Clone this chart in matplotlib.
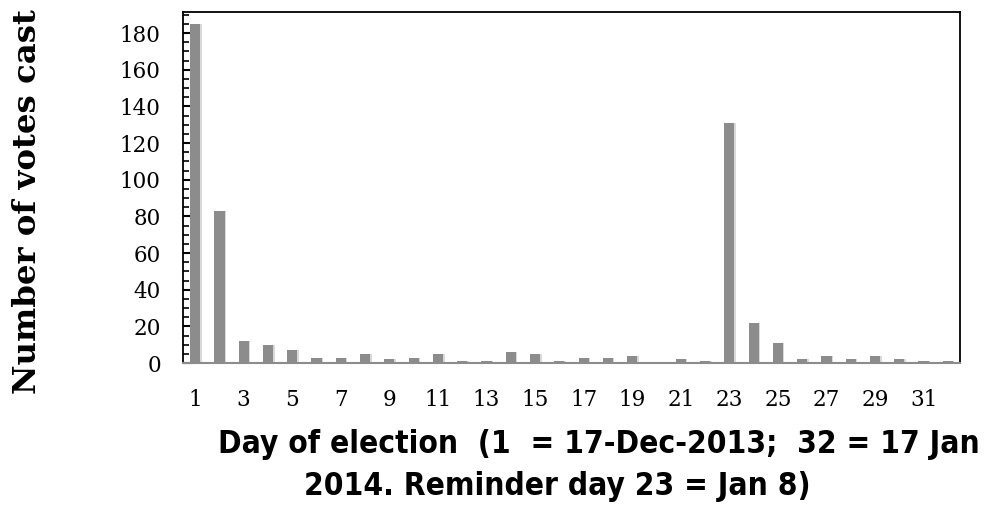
import matplotlib
matplotlib.use("Agg")
import matplotlib.pyplot as plt
import numpy as np

days = list(range(1, 33))
votes = [185, 83, 12, 10, 7, 3, 3, 5, 2, 3, 5, 1, 1, 6, 5, 1,
         3, 3, 4, 0, 2, 1, 131, 22, 11, 2, 4, 2, 4, 2, 1, 1]
xtick_labels = [str(d) for d in range(1, 33, 2)]
y_label = "Number of votes cast"
x_label_1 = "Day of election  (1  = 17-Dec-2013;  32 = 17 Jan"
x_label_2 = "2014. Reminder day 23 = Jan 8)"

fig = plt.figure(figsize=(9.86, 5.08), dpi=100)
ax = fig.add_axes([183/986, 1 - 363/508, (960-183)/986, (363-12)/508])

# soft shadow
ax.bar(np.array(days) + 0.06, votes, width=0.42, color="#d9d9d9", zorder=1)
ax.bar(days, votes, width=0.42, color="#8c8c8c", zorder=2)

ax.set_xlim(0.5, 32.5)
ax.set_ylim(0, 191.5)
ax.set_yticks(range(0, 181, 20))
ax.set_yticks(range(0, 191, 5), minor=True)
ax.set_xticks(range(1, 33, 2))
ax.set_xticklabels(xtick_labels)

ax.tick_params(axis="y", which="major", direction="in", length=7, width=1.5, pad=16, color="black",
               labelsize=15.5, labelfontfamily="DejaVu Serif")
ax.tick_params(axis="y", which="minor", direction="in", length=4, width=1.2, color="black")
ax.tick_params(axis="x", which="both", length=0, pad=19,
               labelsize=15.5, labelfontfamily="DejaVu Serif")

for s in ["left", "top", "right"]:
    ax.spines[s].set_color("black")
    ax.spines[s].set_linewidth(1.3)
ax.spines["bottom"].set_color("#8c8c8c")
ax.spines["bottom"].set_linewidth(1.5)

fig.text(28/986, 1 - 202/508, y_label, rotation=90, ha="center", va="center",
         fontfamily="DejaVu Serif", fontweight="bold", fontsize=23.3)
fig.text(599/986, 1 - 445/508, x_label_1, ha="center", va="center",
         fontfamily="DejaVu Sans", fontstretch="condensed", fontweight="bold",
         fontsize=22.7)
fig.text(557/986, 1 - 487/508, x_label_2, ha="center", va="center",
         fontfamily="DejaVu Sans", fontstretch="condensed", fontweight="bold",
         fontsize=22.7)

fig.savefig("out.png", dpi=100)
